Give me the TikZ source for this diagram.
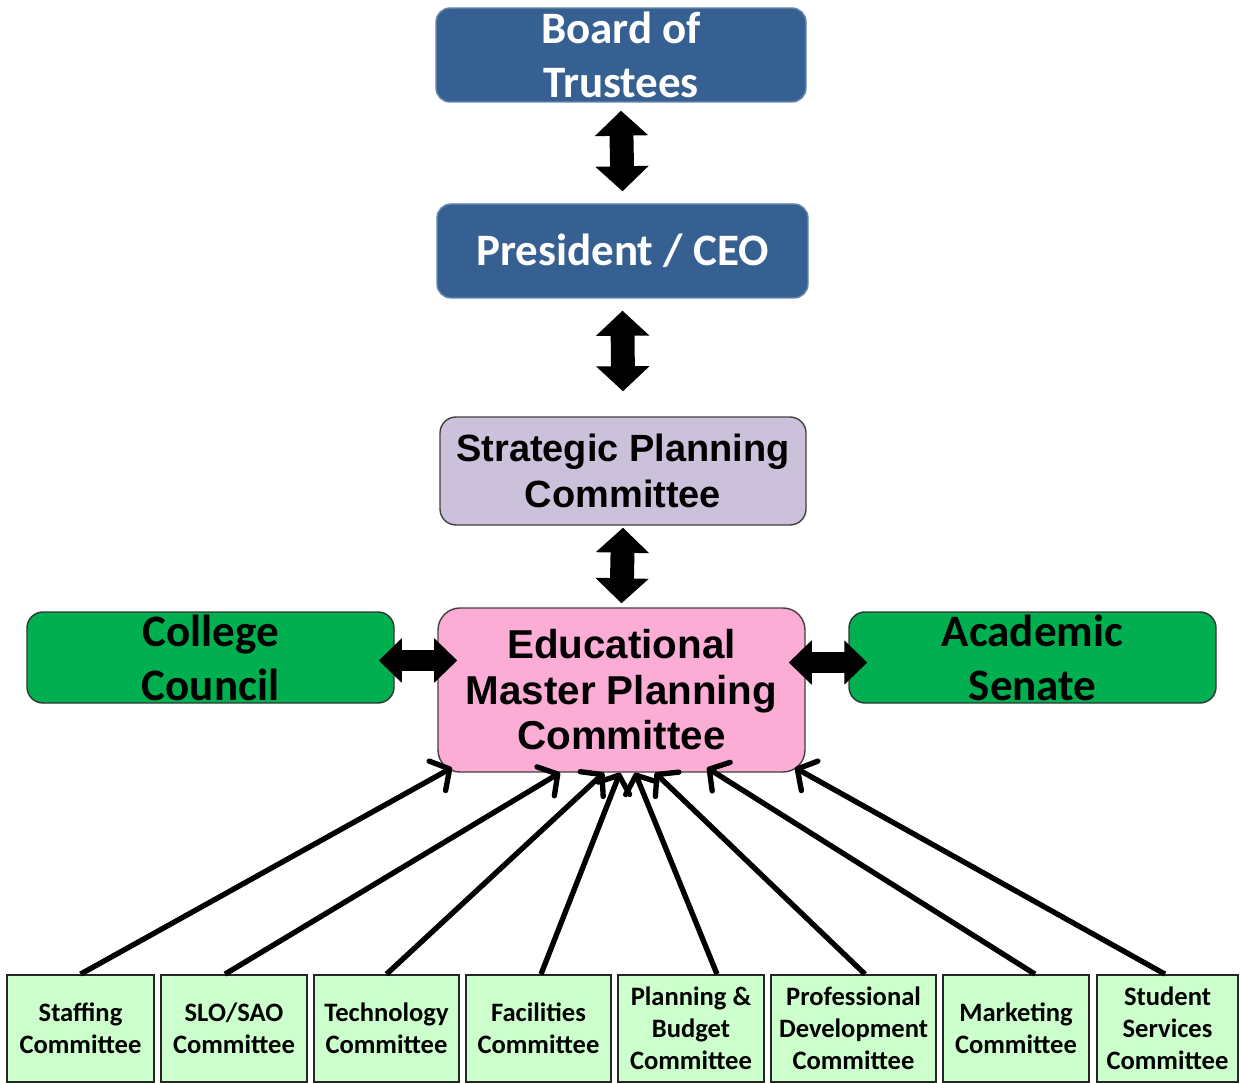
\documentclass[tikz,border=0pt]{standalone}
\usepackage{fontspec}
\setmainfont{Carlito}
\newfontfamily\arialfont{Liberation Sans}
\usetikzlibrary{arrows.meta,calc}

\definecolor{boardblue}{HTML}{376092}
\definecolor{stratlilac}{HTML}{CCC1DA}
\definecolor{empcpink}{HTML}{FBADD6}
\definecolor{govgreen}{HTML}{00B050}
\definecolor{cmtgreen}{HTML}{CCFFCC}

\tikzset{
    dims/.style 2 args={minimum width=#1*0.25mm, minimum height=#2*0.25mm, inner sep=0pt},
    topbox/.style={rectangle, draw=boardblue!75!white, fill=boardblue, line width=1pt,
        rounded corners=3.5mm, text=white, align=center,
        font=\bfseries\fontsize{32}{38.4}\selectfont},
    govbox/.style={rectangle, draw=black!80, fill=govgreen, line width=1pt,
        rounded corners=4mm, align=center, font=\bfseries\fontsize{32}{38.4}\selectfont},
    stratbox/.style={rectangle, draw=black!75, fill=stratlilac, line width=1pt,
        rounded corners=4mm, align=center, font=\arialfont\bfseries\fontsize{27}{32.7}\selectfont},
    empcbox/.style={rectangle, draw=black!75, fill=empcpink, line width=1pt,
        rounded corners=5.5mm, align=center, font=\arialfont\bfseries\fontsize{28.7}{32.4}\selectfont},
    cmtbox/.style={rectangle, draw=black!85, fill=cmtgreen, line width=1.2pt,
        align=center, font=\bfseries\fontsize{18.9}{22.8}\selectfont},
    twoway/.style={line width=17pt, {Triangle[length=17.8pt,width=37pt]}-{Triangle[length=17.8pt,width=37pt]}},
    sideway/.style={line width=15.6pt, {Triangle[length=16.4pt,width=30.6pt]}-{Triangle[length=16.4pt,width=30.6pt]}},
    feed/.style={line width=3.8pt, -{Straight Barb[length=10pt,width=24pt,line width=3.8pt,round]}}
}

\begin{document}
\begin{tikzpicture}[x=0.25mm,y=-0.25mm]
                \useasboundingbox (0,0) rectangle (1240,1083);

                \node[topbox, dims={370}{94}] (board) at (621,55) {Board of\\Trustees};
                \node[topbox, dims={371}{94}] (pres) at (622.5,251) {President / CEO};
                \node[stratbox, dims={366}{108}] (strat) at (623,471) {Strategic Planning\\Committee};
                \node[empcbox, dims={367}{164}] (empc) at (621.5,690) {Educational\\Master Planning\\Committee};
                \node[govbox, dims={367}{91}] (council) at (210.5,657.5) {College\\Council};
                \node[govbox, dims={367}{91}] (senate) at (1032.5,657.5) {Academic\\Senate};

                % committees along the bottom
                \node[cmtbox, dims={147}{107}] (staff) at (80.5,1028.5) {Staffing\\Committee};
                \node[cmtbox, dims={146}{107}] (slo) at (234,1028.5) {SLO/SAO\\Committee};
                \node[cmtbox, dims={145}{107}] (tech) at (386.5,1028.5) {Technology\\Committee};
                \node[cmtbox, dims={145}{107}] (fac) at (538.5,1028.5) {Facilities\\Committee};
                \node[cmtbox, dims={146}{107}] (pb) at (691,1028.5) {Planning \&\\Budget\\Committee};
                \node[cmtbox, dims={165}{107}] (pd) at (853.5,1028.5) {Professional\\Development\\Committee};
                \node[cmtbox, dims={146}{107}] (mkt) at (1016,1028.5) {Marketing\\Committee};
                \node[cmtbox, dims={141}{107}] (stud) at (1167.5,1028.5) {Student\\Services\\Committee};

                \draw[twoway] ($(board.south)+(0,8)$) -- ($(pres.north)+(0,-12)$);
                \draw[twoway] ($(pres.south)+(0,12)$) -- ($(strat.north)+(0,-25)$);
                \draw[twoway] ($(strat.south)+(0,2)$) -- ($(empc.north)+(0,-4)$);

                \draw[sideway] ($(council.east)+(-16,3)$) -- ($(council.east -| empc.west)+(20,3)$);
                \draw[sideway] ($(senate.west -| empc.east)+(-17,5)$) -- ($(senate.west)+(19,5)$);

                \draw[feed] (staff.north) -- ($(empc.south)+(-169.5,-5)$);
                \draw[feed] ($(slo.north)+(-9,0)$) -- ($(empc.south)+(-61.5,0)$);
                \draw[feed] (tech.north) -- ($(empc.south)+(-17.5,0)$);
                \draw[feed] ($(fac.north)+(2.5,0)$) -- ($(empc.south)+(-1.5,0)$);
                \draw[feed] ($(pb.north)+(26,0)$) -- ($(empc.south)+(13.5,0)$);
                \draw[feed] ($(pd.north)+(11.5,0)$) -- ($(empc.south)+(33.5,0)$);
                \draw[feed] ($(mkt.north)+(19,0)$) -- ($(empc.south)+(85.5,-5)$);
                \draw[feed] ($(stud.north)+(-2.5,0)$) -- ($(empc.south)+(173.5,-5)$);
\end{tikzpicture}
\end{document}
